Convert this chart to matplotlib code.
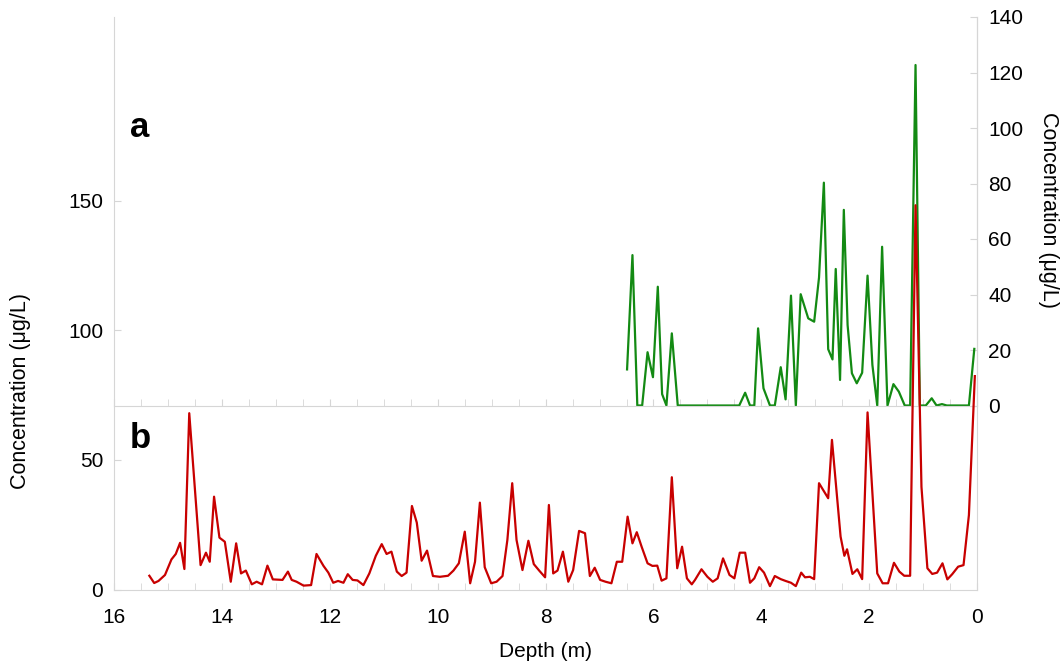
import matplotlib
matplotlib.use("Agg")
from matplotlib import pyplot as plt
from matplotlib.ticker import MultipleLocator

plt.rcParams['font.family'] = ['Liberation Sans', 'DejaVu Sans']

# red series (left axis)
red_depth = [15.35, 15.26, 15.18, 15.06, 14.94, 14.86, 14.78, 14.70, 14.61, 14.40,
             14.30, 14.23, 14.15, 14.05, 13.95, 13.84, 13.74, 13.65, 13.56, 13.45,
             13.36, 13.26, 13.16, 13.06, 12.88, 12.78, 12.71, 12.62, 12.49, 12.35,
             12.25, 12.12, 12.03, 11.94, 11.85, 11.75, 11.67, 11.58, 11.49, 11.38,
             11.27, 11.15, 11.04, 10.95, 10.86, 10.76, 10.67, 10.58, 10.48, 10.39,
             10.30, 10.20, 10.09, 9.96, 9.81, 9.71, 9.61, 9.50, 9.40, 9.31,
             9.22, 9.13, 9.01, 8.91, 8.80, 8.71, 8.62, 8.54, 8.43, 8.32,
             8.22, 8.12, 8.01, 7.94, 7.86, 7.78, 7.68, 7.58, 7.49, 7.38,
             7.27, 7.18, 7.09, 6.99, 6.89, 6.78, 6.68, 6.58, 6.48, 6.39,
             6.31, 6.22, 6.11, 6.02, 5.93, 5.85, 5.76, 5.66, 5.56, 5.47,
             5.38, 5.29, 5.23, 5.11, 5.00, 4.90, 4.81, 4.71, 4.59, 4.50,
             4.40, 4.30, 4.21, 4.13, 4.04, 3.95, 3.84, 3.75, 3.64, 3.55,
             3.45, 3.36, 3.26, 3.19, 3.10, 3.02, 2.93, 2.76, 2.69, 2.53,
             2.46, 2.41, 2.31, 2.22, 2.13, 2.03, 1.85, 1.75, 1.65, 1.54,
             1.44, 1.35, 1.24, 1.14, 1.03, 0.92, 0.83, 0.74, 0.64, 0.55,
             0.46, 0.35, 0.25, 0.15, 0.04]
red_conc = [5.3, 2.5, 3.3, 5.6, 11.6, 13.7, 18.0, 7.9, 68.0, 9.4,
            14.2, 10.7, 35.8, 20.0, 18.4, 3.0, 17.8, 6.2, 7.3, 2.0,
            3.0, 2.0, 9.2, 3.9, 3.7, 6.9, 3.7, 3.0, 1.5, 1.7,
            13.7, 9.1, 6.5, 2.6, 3.3, 2.6, 5.9, 3.7, 3.5, 1.7,
            6.2, 13.0, 17.5, 13.7, 14.6, 6.9, 5.2, 6.5, 32.2, 25.8,
            11.1, 15.0, 5.2, 4.9, 5.3, 7.3, 10.1, 22.3, 2.4, 10.7,
            33.5, 8.6, 2.4, 3.0, 5.2, 19.1, 41.0, 19.1, 7.5, 18.8,
            9.8, 7.3, 4.7, 32.6, 6.2, 7.3, 14.6, 3.0, 7.5, 22.6,
            21.7, 5.2, 8.4, 3.7, 3.0, 2.4, 10.7, 10.7, 28.1, 17.8,
            22.1, 16.5, 10.1, 9.1, 9.2, 3.4, 4.3, 43.3, 8.2, 16.5,
            4.3, 2.0, 3.7, 7.8, 4.9, 3.0, 4.3, 12.0, 5.6, 4.3,
            14.2, 14.2, 2.6, 4.3, 8.6, 6.5, 1.3, 5.2, 4.0, 3.3,
            2.6, 1.3, 6.5, 4.7, 4.9, 4.0, 41.0, 35.2, 57.7, 20.4,
            13.0, 15.5, 6.0, 7.8, 4.0, 68.3, 6.2, 2.4, 2.4, 10.3,
            6.9, 5.3, 5.3, 148.2, 39.6, 8.2, 6.0, 6.5, 10.1, 3.9,
            5.9, 8.8, 9.4, 28.7, 82.3]

# green series (right axis)
green_depth = [6.49, 6.39, 6.30, 6.21, 6.11, 6.01, 5.92, 5.84, 5.76, 5.66,
               5.55, 4.41, 4.30, 4.21, 4.13, 4.06, 3.96, 3.84, 3.75, 3.64,
               3.55, 3.45, 3.36, 3.27, 3.13, 3.02, 2.93, 2.84, 2.76, 2.68,
               2.62, 2.54, 2.47, 2.40, 2.32, 2.23, 2.13, 2.03, 1.94, 1.85,
               1.76, 1.66, 1.55, 1.45, 1.34, 1.24, 1.14, 1.06, 0.95, 0.84,
               0.75, 0.65, 0.56, 0.15, 0.05]
green_conc = [13.0, 54.2, 0, 0, 19.2, 10.2, 42.8, 4.1, 0, 26.0,
              0, 0, 4.6, 0, 0, 27.8, 6.2, 0, 0, 13.8,
              2.2, 39.6, 0, 40.1, 31.4, 30.2, 46.1, 80.3, 20.3, 16.6,
              49.2, 9.2, 70.5, 29.0, 11.6, 8.0, 11.8, 46.8, 14.6, 0,
              57.2, 0, 7.7, 5.0, 0, 0, 122.7, 0, 0, 2.6,
              0, 0.5, 0, 0, 20.4]

left_ticks = [0, 50, 100, 150]
right_ticks = [0, 20, 40, 60, 80, 100, 120, 140]

W, H = 1061, 664
gray = '#d6d6d6'
fs = 15

fig = plt.figure(figsize=(W / 100, H / 100), dpi=100)
x0, x1 = 114.3 / W, 977 / W
y_bot, y_mid, y_top = 1 - 589.5 / H, 1 - 405.5 / H, 1 - 17 / H

ax = fig.add_axes([x0, y_bot, x1 - x0, y_top - y_bot])
ax2 = fig.add_axes([x0, y_mid, x1 - x0, y_top - y_mid], sharex=ax)

ax.set_xlim(16, 0)
ax.set_ylim(0, 220.8)
ax2.set_ylim(0, 140)

ax.plot(red_depth, red_conc, color='#c80000', lw=1.6, zorder=3)
ax2.plot(green_depth, green_conc, color='#138a13', lw=1.6, clip_on=False)
# red on top of green
ax.set_zorder(ax2.get_zorder() + 1)
ax.patch.set_visible(False)

ax.spines['top'].set_visible(False)
for s in ['left', 'bottom', 'right']:
    ax.spines[s].set_color(gray)
ax.set_yticks(left_ticks)
ax.xaxis.set_major_locator(MultipleLocator(2))
ax.xaxis.set_minor_locator(MultipleLocator(0.5))
ax.tick_params(axis='both', which='both', direction='in', length=5, color=gray,
               labelsize=fs)
ax.tick_params(axis='x', pad=13)
ax.tick_params(axis='y', pad=8, right=False)

for s in ['left', 'top']:
    ax2.spines[s].set_visible(False)
ax2.spines['bottom'].set_color(gray)
ax2.spines['right'].set_color(gray)
ax2.yaxis.tick_right()
ax2.set_yticks(right_ticks)
ax2.tick_params(axis='both', which='both', direction='in', length=5, color=gray,
                labelsize=fs)
ax2.tick_params(axis='x', which='both', labelbottom=False)
ax2.tick_params(axis='y', pad=8)
ax2.patch.set_visible(False)

ax.set_xlabel('Depth (m)', fontsize=fs, labelpad=11)
fig.text(21 / W, 1 - 391 / H, 'Concentration (\u03bcg/L)', rotation=90,
         fontsize=15.5, ha='center', va='center')
fig.text(1049 / W, 1 - 210 / H, 'Concentration (\u03bcg/L)', rotation=270,
         fontsize=15.5, ha='center', va='center')

fig.text(130 / W, 1 - 137 / H, 'a', fontsize=25, fontweight='bold', va='baseline')
fig.text(130 / W, 1 - 448 / H, 'b', fontsize=25, fontweight='bold', va='baseline')

fig.savefig('out.png', dpi=100)
